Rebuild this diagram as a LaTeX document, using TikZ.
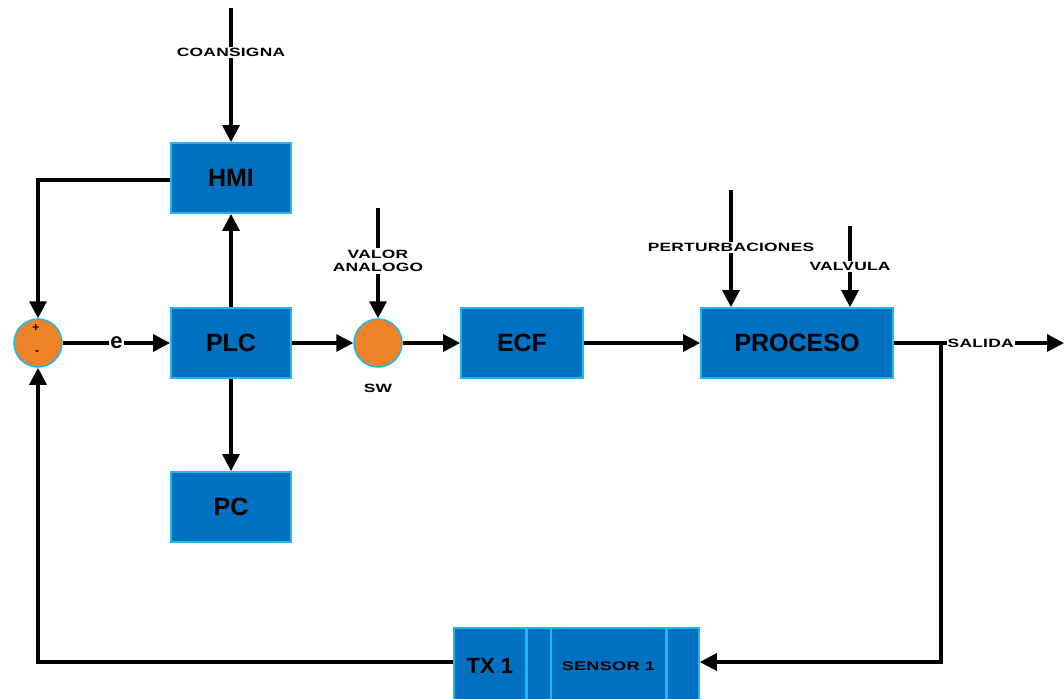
\documentclass[tikz,border=0pt]{standalone}
\usepackage{fontspec}
\setmainfont{Liberation Sans}
\newfontfamily\lblfont[FakeStretch=1.45,LetterSpace=2]{Liberation Sans Bold}
\usetikzlibrary{arrows.meta,calc}
\definecolor{boxblue}{HTML}{0070C0}
\definecolor{edgeblue}{HTML}{22B5EE}
\definecolor{sumorange}{HTML}{EE8328}
\tikzset{
  blk/.style={draw=edgeblue, line width=1.8pt, fill=boxblue, minimum width=120pt, minimum height=70pt, inner sep=0pt, font=\fontsize{25}{25}\selectfont\bfseries},
  seg/.style={draw=edgeblue, line width=1.8pt, fill=boxblue, minimum height=76pt, inner sep=0pt, anchor=west},
  junc/.style={circle, draw=edgeblue, line width=1.5pt, fill=sumorange, minimum size=48pt, inner sep=0pt},
  sig/.style={line width=3.2pt, -{Triangle[length=17pt,width=17pt]}},
  lbl/.style={fill=white, inner sep=1.5pt, font=\fontsize{12}{13.5}\selectfont\lblfont, align=center},
}
\begin{document}
\begin{tikzpicture}[x=1pt,y=-1pt]
\useasboundingbox (0,0) rectangle (1064,698);
\clip (0,0) rectangle (1064,698);
% blocks
\node[blk] (hmi) at (231,178) {HMI};
\node[blk] (plc) at (231,343) {PLC};
\node[blk] (pc) at (231,507) {PC};
\node[blk, minimum width=122pt] (ecf) at (522,343) {ECF};
\node[blk, minimum width=192pt] (proc) at (797,343) {PROCESO};
% bottom sensor block
\node[seg, minimum width=72pt, font=\fontsize{22}{22}\selectfont\bfseries] (tx) at (453,666) {TX 1};
\node[seg, minimum width=24pt] (s2) at (526,666) {};
\node[seg, minimum width=115pt, font=\fontsize{12.5}{13}\selectfont\lblfont] (sens) at (550,666) {SENSOR 1};
\node[seg, minimum width=32pt] (s4) at (666,666) {};
% junctions
\node[junc] (sum) at (38,343) {};
\node[font=\fontsize{12}{12}\selectfont\bfseries] (plus) at (36,328) {+};
\node[font=\fontsize{12}{12}\selectfont\bfseries] (minus) at (37,353) {-};
\node[junc] (sw) at (378,343) {};
\node[lbl] (swl) at (378,388) {SW};
% coordinates
\coordinate (cin) at (231,8);
\coordinate (hl) at (38,180);
\coordinate (vin) at (378,208);
\coordinate (pin) at (731,190);
\coordinate (valin) at (850,226);
\coordinate (out) at (1064,343);
\coordinate (br) at (941,343);
\coordinate (bc) at (941,662);
\coordinate (fb) at (38,662);
% connectors
\draw[sig] (cin) -- node[lbl, pos=0.33] (coan) {COANSIGNA} (hmi.north);
\draw[sig] (hmi.west |- hl) -- (hl) -- (sum.north);
\draw[sig] (plc.north) -- (hmi.south);
\draw[sig] (plc.south) -- (pc.north);
\draw[sig] (sum.east) -- node[fill=white, inner sep=1pt, font=\fontsize{22}{22}\selectfont\bfseries] (e) {e} (plc.west);
\draw[sig] (plc.east) -- (sw.west);
\draw[sig] (vin) -- node[lbl, pos=0.48, inner sep=2pt] (val) {VALOR\\ANALOGO} (sw.north);
\draw[sig] (sw.east) -- (ecf.west);
\draw[sig] (ecf.east) -- (proc.west);
\draw[sig] (pin) -- node[lbl, pos=0.49] (pert) {PERTURBACIONES} (pin |- proc.north);
\draw[sig] (valin) -- node[lbl, pos=0.5] (valv) {VALVULA} (valin |- proc.north);
\draw[sig] (proc.east) -- node[lbl, pos=0.51, inner sep=1pt] (sal) {SALIDA} (out);
\draw[sig] (br) -- (bc) -- (s4.east |- bc);
\draw[sig] (tx.west |- fb) -- (fb) -- (sum.south);
\end{tikzpicture}
\end{document}
